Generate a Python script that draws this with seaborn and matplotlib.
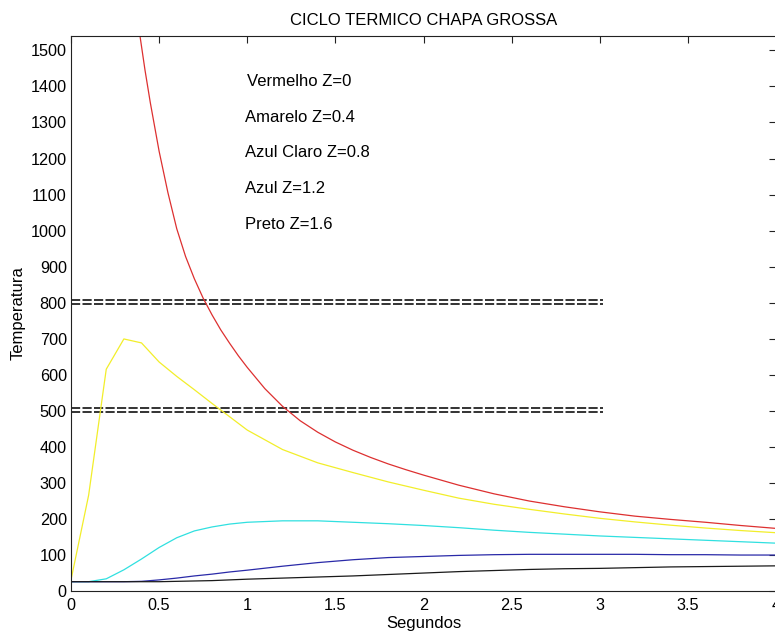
import matplotlib
matplotlib.use("Agg")
import matplotlib.pyplot as plt
import seaborn as sns
import pandas as pd

# ---------------- data ----------------
title = "CICLO TERMICO CHAPA GROSSA"
xlabel = "Segundos"
ylabel = "Temperatura"

t_red = [0.39, 0.42, 0.45, 0.5, 0.55, 0.6, 0.65, 0.7, 0.75, 0.8, 0.85, 0.9,
         0.95, 1.0, 1.1, 1.2, 1.3, 1.4, 1.5, 1.6, 1.7, 1.8, 1.9, 2.0,
         2.2, 2.4, 2.6, 2.8, 3.0, 3.2, 3.4, 3.6, 3.8, 4.0]
T_red = [1545, 1445, 1355, 1220, 1105, 1005, 928, 866, 812, 766, 724, 687,
         652, 620, 561, 512, 472, 440, 413, 390, 370, 352, 336, 321,
         293, 269, 249, 233, 219, 207, 198, 190, 181, 173]

t_yellow = [0.0, 0.1, 0.2, 0.3, 0.4, 0.5, 0.6, 0.7, 0.8, 0.9, 1.0, 1.2, 1.4,
            1.6, 1.8, 2.0, 2.2, 2.4, 2.6, 2.8, 3.0, 3.2, 3.4, 3.6, 3.8, 4.0]
T_yellow = [30, 265, 615, 699, 688, 635, 595, 558, 520, 483, 446, 392, 355,
            328, 302, 279, 257, 240, 226, 213, 201, 191, 182, 174, 167, 161]

t_cyan = [0.0, 0.1, 0.2, 0.3, 0.4, 0.5, 0.6, 0.7, 0.8, 0.9, 1.0, 1.2, 1.4,
          1.6, 1.8, 2.0, 2.2, 2.4, 2.6, 2.8, 3.0, 3.2, 3.4, 3.6, 3.8, 4.0]
T_cyan = [25, 25, 33, 58, 88, 120, 147, 166, 177, 185, 190, 194, 194,
          190, 186, 181, 175, 168, 162, 157, 152, 148, 144, 140, 136, 132]

t_blue = [0.0, 0.3, 0.4, 0.5, 0.6, 0.7, 0.8, 0.9, 1.0, 1.2, 1.4, 1.6, 1.8,
          2.0, 2.2, 2.4, 2.6, 2.8, 3.0, 3.2, 3.4, 3.6, 3.8, 4.0]
T_blue = [25, 25, 26, 30, 35, 41, 46, 52, 57, 68, 78, 86, 92,
          95, 98, 100, 101, 101, 101, 101, 100, 100, 99, 99]

t_black = [0.0, 0.5, 0.6, 0.8, 1.0, 1.2, 1.4, 1.6, 1.8, 2.0, 2.2, 2.4, 2.6,
           2.8, 3.0, 3.2, 3.4, 3.6, 3.8, 4.0]
T_black = [25, 25, 26, 28, 32, 35, 38, 41, 45, 49, 53, 56, 59,
           61, 62, 64, 66, 67, 68, 69]

series_names = ["Vermelho", "Amarelo", "Azul Claro", "Azul", "Preto"]
annotations = ["Vermelho Z=0", "Amarelo Z=0.4", "Azul Claro Z=0.8",
               "Azul Z=1.2", "Preto Z=1.6"]

ref_levels = [808, 797, 508, 497]
ref_x = [0.0, 3.02]

x_ticks = [0, 0.5, 1, 1.5, 2, 2.5, 3, 3.5, 4]
x_tick_labels = ["0", "0.5", "1", "1.5", "2", "2.5", "3", "3.5", "4"]
y_ticks = list(range(0, 1501, 100))

# ---------------- styling ----------------
sns.set_theme(style="white")
plt.rcParams["font.family"] = ["Liberation Sans", "DejaVu Sans"]

colors = {"Vermelho": "#dd3030", "Amarelo": "#f2ee2a", "Azul Claro": "#30e0e0",
          "Azul": "#2a2aa8", "Preto": "#1a1a1a"}

frames = []
for name, tt, TT in zip(series_names,
                        [t_red, t_yellow, t_cyan, t_blue, t_black],
                        [T_red, T_yellow, T_cyan, T_blue, T_black]):
    frames.append(pd.DataFrame({"t": tt, "T": TT, "serie": name}))
df = pd.concat(frames, ignore_index=True)

fig = plt.figure(figsize=(7.75, 6.35), dpi=100)
ax = fig.add_axes([71 / 775, 1 - 590.7 / 635, 705 / 775, 555 / 635])

for lvl in ref_levels:
    sns.lineplot(x=ref_x, y=[lvl, lvl], ax=ax, color="#111111", lw=1.2,
                 dashes=False, legend=False)
for line in ax.lines:
    line.set_linestyle((0, (5.5, 1.4)))

sns.lineplot(data=df, x="t", y="T", hue="serie", palette=colors,
             hue_order=series_names, estimator=None, sort=False, lw=0.9,
             legend=False, ax=ax)

ax.set_xlim(0, 4)
ax.set_ylim(0, 1541)
ax.set_xticks(x_ticks)
ax.set_xticklabels(x_tick_labels)
ax.set_yticks(y_ticks)
ax.tick_params(axis="both", direction="in", length=5, width=0.8,
               top=True, right=True, labelsize=11.7, colors="#222222",
               labelcolor="black")
ax.tick_params(axis="y", pad=3)
ax.tick_params(axis="x", pad=5)
for sp in ax.spines.values():
    sp.set_visible(True)
    sp.set_color("#222222")
    sp.set_linewidth(0.8)

ax.set_title(title, fontsize=12, pad=8, color="black")
ax.set_xlabel(xlabel, fontsize=12, color="black")
ax.set_ylabel(ylabel, fontsize=12, color="black")
ax.xaxis.set_label_coords(0.5, -0.045)
ax.yaxis.set_label_coords(-0.064, 0.5)

ann_x = [1.0, 0.99, 0.99, 0.99, 0.985]
ann_y = [1400, 1300, 1205, 1103, 1005]
for txt, xx, yy in zip(annotations, ann_x, ann_y):
    ax.text(xx, yy, txt, fontsize=12, ha="left", va="baseline", color="black")

fig.savefig("out.png", dpi=100)
